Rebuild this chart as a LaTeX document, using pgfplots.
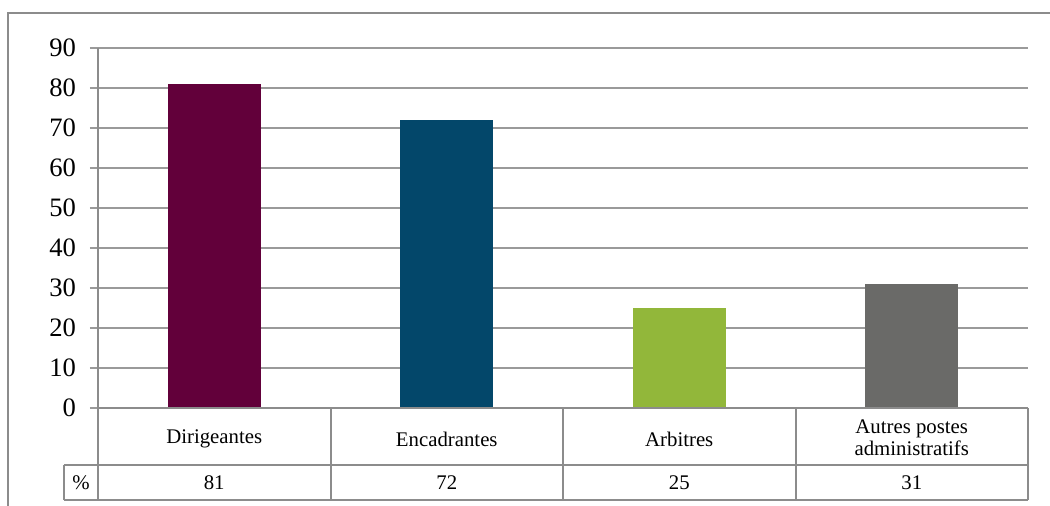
\documentclass[border=0pt]{standalone}
\usepackage{fontspec}
\setmainfont{Liberation Serif}
\usepackage{pgfplots}
\pgfplotsset{compat=1.18}
\definecolor{gridgray}{HTML}{9A9A9A}
\definecolor{linegray}{HTML}{8C8C8C}
\definecolor{cMaroon}{HTML}{62003A}
\definecolor{cBlue}{HTML}{03476A}
\definecolor{cGreen}{HTML}{92B73A}
\definecolor{cGray}{HTML}{6A6A68}
\begin{document}
\begin{tikzpicture}[x=0.5pt,y=0.5pt]
\useasboundingbox (0,0) rectangle (1050,506);
\draw[linegray, line width=1pt] (8,-2) -- (8,493) -- (1052,493);
\begin{axis}[
  at={(49pt,49pt)}, anchor=south west,
  scale only axis, width=465pt, height=180pt,
  xmin=-0.5, xmax=3.5, ymin=0, ymax=90,
  ytick={0,10,...,90},
  xtick=\empty,
  axis line style={draw=none},
  ytick pos=left,
  tick align=outside,
  major tick length=4pt,
  ytick style={draw=gridgray, line width=0.75pt},
  ymajorgrids,
  major grid style={gridgray, line width=0.75pt},
  yticklabel style={font=\fontsize{13.3}{14}\selectfont, xshift=-3.5pt},
  /pgf/number format/assume math mode=true,
  clip=false,
]
\addplot[ybar, bar width=0.4, bar shift=0pt, fill=cMaroon, draw=none] coordinates {(0,81)};
\addplot[ybar, bar width=0.4, bar shift=0pt, fill=cBlue, draw=none] coordinates {(1,72)};
\addplot[ybar, bar width=0.4, bar shift=0pt, fill=cGreen, draw=none] coordinates {(2,25)};
\addplot[ybar, bar width=0.4, bar shift=0pt, fill=cGray, draw=none] coordinates {(3,31)};
\begin{scope}[every node/.style={font=\fontsize{10.4}{11.2}\selectfont, align=center, anchor=center}]
\node[yshift=-15.5pt] at (axis cs:0,0) {Dirigeantes};
\node[yshift=-15.5pt] at (axis cs:1,0) {Encadrantes};
\node[yshift=-15.5pt] at (axis cs:2,0) {Arbitres};
\node[yshift=-14.8pt] at (axis cs:3,0) {Autres postes\\administratifs};
\node[yshift=-37.5pt] at (axis cs:0,0) {81};
\node[yshift=-37.5pt] at (axis cs:1,0) {72};
\node[yshift=-37.5pt] at (axis cs:2,0) {25};
\node[yshift=-37.5pt] at (axis cs:3,0) {31};
\end{scope}
\end{axis}
\begin{scope}[linegray, line width=1pt]
\draw (98,458) -- (98,6);
\draw (98,98) -- (1028,98);
\draw (64,41) -- (1028,41);
\draw (64,6) -- (1028,6);
\draw (64,41) -- (64,6);
\draw (331,98) -- (331,6);
\draw (563,98) -- (563,6);
\draw (796,98) -- (796,6);
\draw (1028,98) -- (1028,6);
\end{scope}
\node[font=\fontsize{10.4}{11.2}\selectfont] at (81,23.5) {\%};
\end{tikzpicture}
\end{document}
